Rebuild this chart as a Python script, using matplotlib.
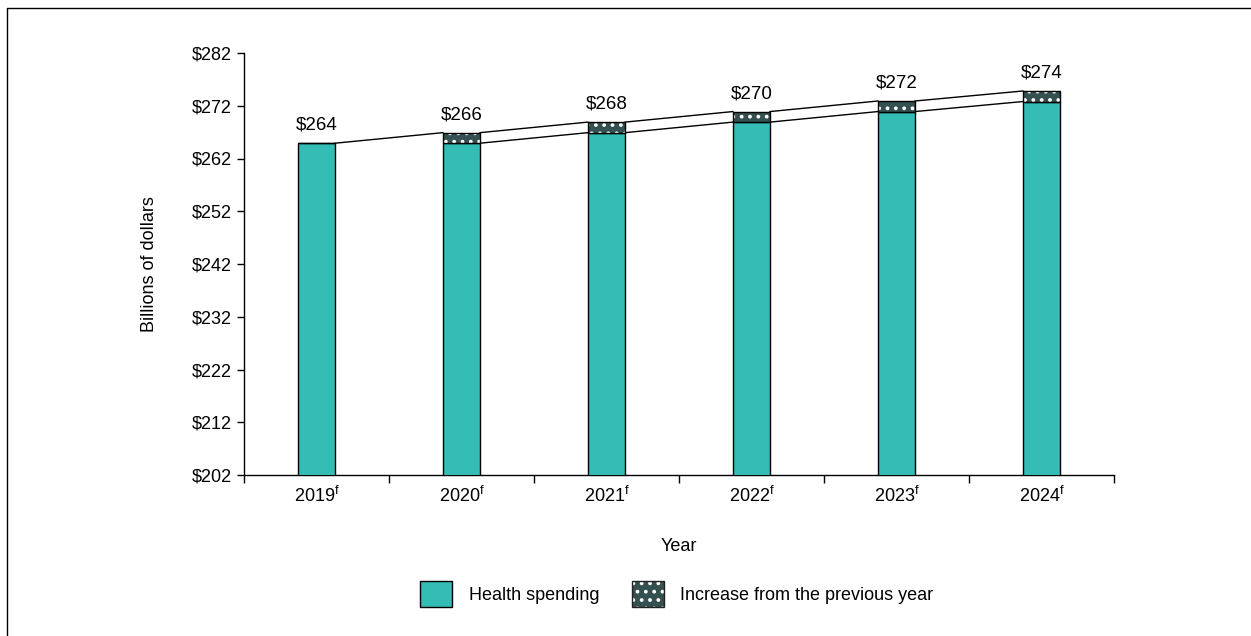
import matplotlib
matplotlib.use("Agg")
import matplotlib.pyplot as plt
from matplotlib.patches import Patch
from matplotlib.lines import Line2D
from matplotlib.legend_handler import HandlerTuple
import numpy as np

plt.rcParams['font.family'] = ['Liberation Sans', 'DejaVu Sans']
plt.rcParams['mathtext.fontset'] = 'custom'
plt.rcParams['mathtext.rm'] = 'Liberation Sans'
plt.rcParams['hatch.linewidth'] = 1.5

years = ["2019", "2020", "2021", "2022", "2023", "2024"]
health_spending = [264.9, 264.9, 266.9, 268.9, 270.9, 272.8]
increase = [0.0, 2.0, 2.0, 2.0, 2.0, 2.0]
value_labels = ["$264", "$266", "$268", "$270", "$272", "$274"]
yticks = [202, 212, 222, 232, 242, 252, 262, 272, 282]

teal = "#33BDB5"
dark = "#355050"

fig = plt.figure(figsize=(12.51, 6.36), dpi=100)
ax = fig.add_axes([244/1251, 1-475/636, (1114-244)/1251, (475-53)/636])

x = np.arange(len(years))
w = 0.255
totals = [h + i for h, i in zip(health_spending, increase)]

ax.bar(x, health_spending, width=w, color=teal, edgecolor="black", linewidth=1.0, zorder=3)
ax.bar(x, increase, bottom=health_spending, width=w, color=dark, edgecolor="white",
       hatch="..", linewidth=0, zorder=3)
ax.bar(x, increase, bottom=health_spending, width=w, fill=False, edgecolor="black",
       linewidth=1.0, zorder=4)

# connecting lines
for i in range(len(years) - 1):
    ax.plot([x[i] + w/2, x[i+1] - w/2], [totals[i], totals[i+1]], color="black", lw=1.0, zorder=2)
    if i >= 1:
        ax.plot([x[i] + w/2, x[i+1] - w/2], [health_spending[i], health_spending[i+1]],
                color="black", lw=1.0, zorder=2)

for xi, t, lab in zip(x, totals, value_labels):
    ax.text(xi, t + 1.8, lab, ha="center", va="bottom", fontsize=13.5)

ax.set_ylim(202, 282)
ax.set_xlim(-0.5, len(years) - 0.5)
ax.set_yticks(yticks)
ax.set_yticklabels([f"${v}" for v in yticks], fontsize=13)
ax.set_xticks(x)
ax.set_xticklabels([f"{y}$^{{\\mathrm{{f}}}}$" for y in years], fontsize=13)
ax.set_xticks(np.arange(-0.5, len(years)), minor=True)
ax.tick_params(axis="x", which="major", length=0, pad=8)
ax.tick_params(axis="x", which="minor", length=6, width=1, direction="out")
ax.tick_params(axis="y", length=5, width=1, direction="out", pad=4)

for s in ["top", "right"]:
    ax.spines[s].set_visible(False)
for s in ["left", "bottom"]:
    ax.spines[s].set_linewidth(1.0)

ax.set_ylabel("Billions of dollars", fontsize=13, labelpad=24)
ax.set_xlabel("Year", fontsize=13, labelpad=23)

h1 = Patch(facecolor=teal, edgecolor="black", linewidth=1.0)
h2a = Patch(facecolor=dark, edgecolor="white", hatch="..", linewidth=0)
h2b = Patch(facecolor="none", edgecolor="#222222", linewidth=1.0)
fig.legend(handles=[h1, (h2a, h2b)],
           labels=["Health spending", "Increase from the previous year"],
           handler_map={tuple: HandlerTuple(ndivide=1, pad=0)},
           loc="center", bbox_to_anchor=(0.541, 1-594/636), ncol=2,
           frameon=False, fontsize=13, handlelength=1.8, handleheight=1.8,
           handletextpad=0.9, columnspacing=1.8)

# outer frame (left and top)
fig.add_artist(Line2D([7/1251, 7/1251, 1.0], [0.0, 1-8/636, 1-8/636],
                      transform=fig.transFigure, color="black", lw=1.0))

fig.savefig("out.png", dpi=100)
